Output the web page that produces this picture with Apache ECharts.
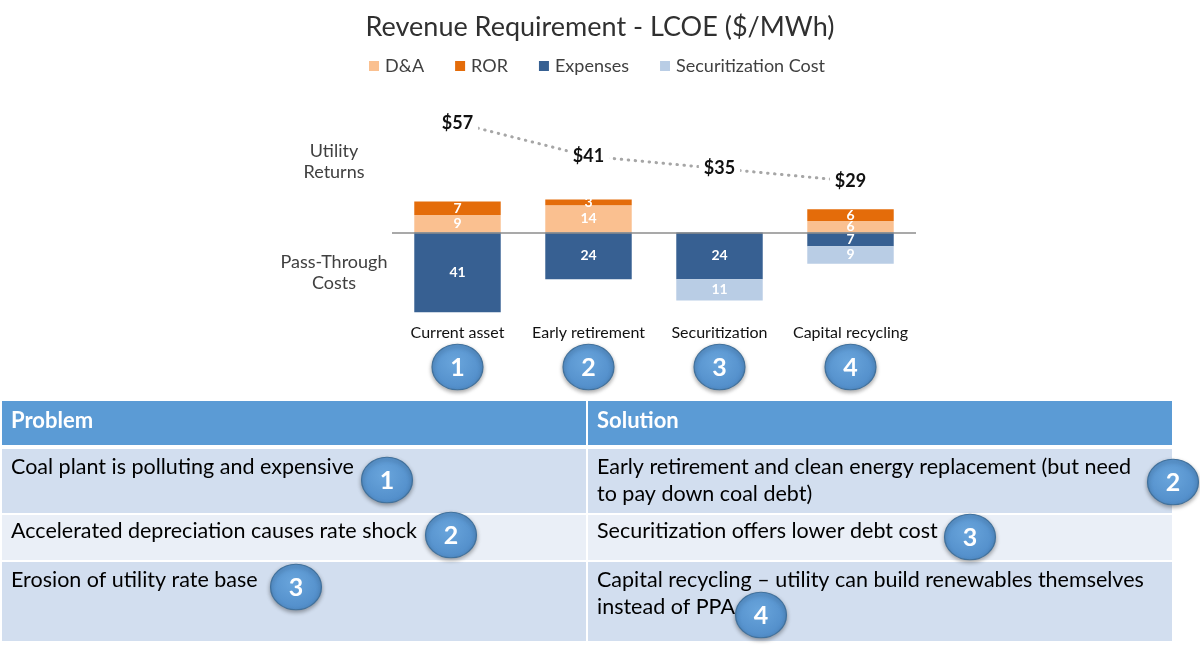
<!DOCTYPE html>
<html>
<head>
<meta charset="utf-8">
<script src="https://cdn.jsdelivr.net/npm/echarts@6/dist/echarts.min.js"></script>
<style>
html,body{margin:0;padding:0;background:#fff;}
#c{width:1200px;height:651px;}
</style>
</head>
<body>
<div id="c"></div>
<script>
// ---- data ----
const categories = ['Current asset', 'Early retirement', 'Securitization', 'Capital recycling'];
const daValues = [9, 14, 0, 6];
const rorValues = [7, 3, 0, 6];
const expenseValues = [41, 24, 24, 7];
const securitizationValues = [0, 0, 11, 9];
const totalValues = [57, 41, 35, 29];
const seriesNames = ['D&A', 'ROR', 'Expenses', 'Securitization Cost'];
const badgeNumbers = ['1', '2', '3', '4'];

const tableHeaders = ['Problem', 'Solution'];
const problems = [
  ['Coal plant is polluting and expensive'],
  ['Accelerated depreciation causes rate shock'],
  ['Erosion of utility rate base']
];
const solutions = [
  ['Early retirement and clean energy replacement (but need', 'to pay down coal debt)'],
  ['Securitization offers lower debt cost'],
  ['Capital recycling \u2013 utility can build renewables themselves', 'instead of PPA']
];
const problemBadges = ['1', '2', '3'];
const solutionBadges = ['2', '3', '4'];

// ---- styles ----
const FONT = 'Lato';
const colors = { da: '#FAC090', ror: '#E46C0A', exp: '#376092', sec: '#B9CDE5' };

const chart = echarts.init(document.getElementById('c'));

function labelFmt(p) { const v = Math.abs(p.value); return v ? String(v) : ''; }
const barLabel = { show: true, position: 'inside', color: '#fff', fontWeight: 'bold', fontSize: 14, fontFamily: FONT, formatter: labelFmt };

function badge(cx, cy, n, size) {
  const r = size || 24;
  return [
    { type: 'circle', z: 10, shape: { cx: cx, cy: cy, r: r }, scaleX: 1.06, scaleY: 0.95, originX: cx, originY: cy,
      style: { fill: { type: 'radial', x: 0.45, y: 0.4, r: 0.7, colorStops: [{ offset: 0, color: '#69A5DC' }, { offset: 1, color: '#4D89C6' }] },
        stroke: '#41719C', lineWidth: 1.2, shadowBlur: 4, shadowOffsetY: 2, shadowColor: 'rgba(0,0,0,0.35)' } },
    { type: 'text', z: 11, x: cx, y: cy + 1, style: { text: n, fill: '#fff', font: 'bold 25px ' + FONT, textAlign: 'center', textVerticalAlign: 'middle' } }
  ];
}

// table layout
const tX0 = 2, tX1 = 1172, colSplit = 587;
const rowsY = [[401, 445], [449, 513], [515, 560], [562, 641]];
const rowFills = ['#5B9BD5', '#D2DEEF', '#EAEFF7', '#D2DEEF'];
const lineGap = 27.5;
const problemTextY = [467, 531, 580];
const solutionTextY = [467, 531, 580];
const problemBadgePos = [[387, 480], [451, 535], [296, 587]];
const solutionBadgePos = [[1173, 482], [970, 537], [761, 615]];
const bodyFont = '21.5px ' + FONT;

function tableGraphics() {
  const g = [];
  rowsY.forEach(function (ry, i) {
    g.push({ type: 'rect', z: 1, shape: { x: tX0, y: ry[0], width: colSplit - 1 - tX0, height: ry[1] - ry[0] }, style: { fill: rowFills[i] } });
    g.push({ type: 'rect', z: 1, shape: { x: colSplit + 1, y: ry[0], width: tX1 - colSplit - 1, height: ry[1] - ry[0] }, style: { fill: rowFills[i] } });
  });
  tableHeaders.forEach(function (h, i) {
    g.push({ type: 'text', z: 2, x: i === 0 ? 11 : 597, y: 421, style: { text: h, fill: '#fff', font: 'bold 22px ' + FONT, textVerticalAlign: 'middle' } });
  });
  problems.forEach(function (lines, r) {
    lines.forEach(function (t, k) {
      g.push({ type: 'text', z: 2, x: 11, y: problemTextY[r] + k * lineGap, style: { text: t, fill: '#000', font: bodyFont, textVerticalAlign: 'middle' } });
    });
  });
  solutions.forEach(function (lines, r) {
    lines.forEach(function (t, k) {
      g.push({ type: 'text', z: 2, x: 597, y: solutionTextY[r] + k * lineGap, style: { text: t, fill: '#000', font: bodyFont, textVerticalAlign: 'middle' } });
    });
  });
  problemBadges.forEach(function (n, r) { g.push.apply(g, badge(problemBadgePos[r][0], problemBadgePos[r][1], n)); });
  solutionBadges.forEach(function (n, r) { g.push.apply(g, badge(solutionBadgePos[r][0], solutionBadgePos[r][1], n)); });
  // side labels
  g.push({ type: 'text', x: 334, y: 162, style: { text: 'Utility\nReturns', fill: '#404040', font: '18px ' + FONT, lineHeight: 21, textAlign: 'center', textVerticalAlign: 'middle' } });
  g.push({ type: 'text', x: 334, y: 273, style: { text: 'Pass-Through\nCosts', fill: '#404040', font: '18px ' + FONT, lineHeight: 21, textAlign: 'center', textVerticalAlign: 'middle' } });
  return g;
}

const option = {
  animation: false,
  title: { text: 'Revenue Requirement - LCOE ($/MWh)', left: 'center', top: 9, textStyle: { fontFamily: FONT, fontSize: 27, fontWeight: 'normal', color: '#303030' } },
  legend: { data: seriesNames, left: 364, top: 52, itemWidth: 10, itemHeight: 10, itemGap: 31, icon: 'rect',
    textStyle: { fontFamily: FONT, fontSize: 18, color: '#404040', padding: [0, 0, 0, 1] } },
  grid: { left: 392, width: 524, top: 116, height: 204 },
  xAxis: { type: 'category', data: categories, axisLine: { show: false }, axisTick: { show: false },
    axisLabel: { interval: 0, margin: 5, fontFamily: FONT, fontSize: 16, color: '#111' } },
  yAxis: [
    { type: 'value', min: -45, max: 60, show: false },
    { type: 'value', min: -38.1, max: 60.4, show: false }
  ],
  series: [
    { name: seriesNames[0], type: 'bar', stack: 'rr', barWidth: '66%', data: daValues, itemStyle: { color: colors.da }, label: barLabel,
      markLine: { silent: true, symbol: 'none', label: { show: false }, lineStyle: { color: '#8C8C8C', width: 1.5, type: 'solid' }, data: [{ yAxis: 0 }] } },
    { name: seriesNames[1], type: 'bar', stack: 'rr', data: rorValues, itemStyle: { color: colors.ror }, label: barLabel },
    { name: seriesNames[2], type: 'bar', stack: 'rr', data: expenseValues.map(function (v) { return -v; }), itemStyle: { color: colors.exp }, label: barLabel },
    { name: seriesNames[3], type: 'bar', stack: 'rr', data: securitizationValues.map(function (v) { return -v; }), itemStyle: { color: colors.sec }, label: barLabel },
    { name: 'Total', type: 'line', yAxisIndex: 1, data: totalValues, symbol: 'circle', symbolSize: 1, showSymbol: true, clip: false, z: 5,
      itemStyle: { color: 'rgba(0,0,0,0)' },
      lineStyle: { color: '#A6A6A6', width: 3, type: [0.5, 6.5], cap: 'round' },
      label: { show: true, position: 'inside', formatter: function (p) { return '$' + p.value; }, backgroundColor: '#fff', padding: [2, 5],
        fontFamily: FONT, fontWeight: 'bold', fontSize: 18, color: '#111' } }
  ],
  graphic: tableGraphics()
};
chart.setOption(option);

// numbered badges under each category, positioned from the category axis
const catBadges = [];
categories.forEach(function (c, i) {
  const x = chart.convertToPixel({ xAxisIndex: 0 }, c);
  catBadges.push.apply(catBadges, badge(x, 367, badgeNumbers[i]));
});
chart.setOption({ graphic: tableGraphics().concat(catBadges) });
</script>
</body>
</html>
